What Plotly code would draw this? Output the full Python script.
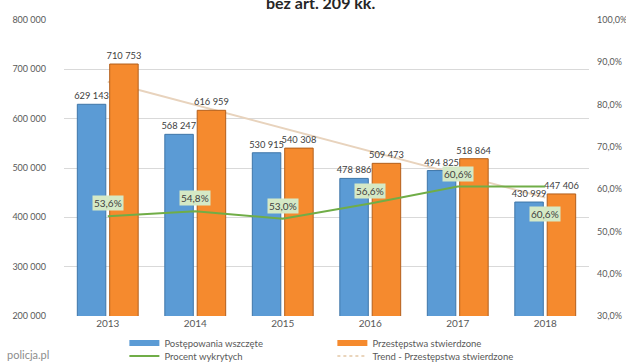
import plotly.graph_objects as go

# Roczne dane: postępowania wszczęte i przestępstwa stwierdzone (bez art. 209 kk.)
years = ["2013", "2014", "2015", "2016", "2017", "2018"]
postepowania = [629143, 568247, 530915, 478886, 494825, 430999]
stwierdzone = [710753, 616959, 540308, 509473, 518864, 447406]
procent_wykrytych = [53.6, 54.8, 53.0, 56.6, 60.6, 60.6]
# liniowy trend przestępstw stwierdzonych: wartości na początku i końcu okresu
trend_years = ["2013", "2018"]
trend_values = [675000, 440000]

left_ticks = [200000, 300000, 400000, 500000, 600000, 700000, 800000]
right_ticks = [30, 40, 50, 60, 70, 80, 90, 100]


def pct(v):
    return f"{v:.1f}".replace(".", ",") + "%"


FONT = "Lato, 'Open Sans', sans-serif"
TXT = "#595959"
BLUE = "#5B9BD5"
ORANGE = "#F58A2E"
GREEN = "#70AD47"
TREND = "#E8D3BD"

fig = go.Figure()

# trend line sits on the base axis, underneath the bars
fig.add_trace(go.Scatter(
    x=trend_years, y=trend_values, mode="lines",
    name="Trend - Przestępstwa stwierdzone",
    line=dict(color=TREND, width=2), showlegend=False,
    xaxis="x", yaxis="y", hoverinfo="skip",
))

bar_text = dict(size=9.3, color="#404040", family=FONT)
fig.add_trace(go.Bar(
    x=years, y=postepowania, name="Postępowania wszczęte",
    marker=dict(color=BLUE, line=dict(color="#3F76A8", width=1)),
    texttemplate="%{y:,.0f}", textposition="outside", constraintext="none",
    textfont=bar_text, cliponaxis=False, xaxis="x", yaxis="y2",
    showlegend=False,
))
fig.add_trace(go.Bar(
    x=years, y=stwierdzone, name="Przestępstwa stwierdzone",
    marker=dict(color=ORANGE, line=dict(color="#B35F1C", width=1)),
    texttemplate="%{y:,.0f}", textposition="outside", constraintext="none",
    textfont=bar_text, cliponaxis=False, xaxis="x", yaxis="y2",
    showlegend=False,
))

fig.add_trace(go.Scatter(
    x=years, y=procent_wykrytych, mode="lines", name="Procent wykrytych",
    line=dict(color=GREEN, width=2), xaxis="x", yaxis="y3",
    showlegend=False,
))

# legend keys: flat bar swatches and line swatches, two rows
legend_keys = [
    ("Postępowania wszczęte", BLUE, 6, "solid", "legend"),
    ("Przestępstwa stwierdzone", ORANGE, 6, "solid", "legend"),
    ("Procent wykrytych", GREEN, 2, "solid", "legend2"),
    ("Trend - Przestępstwa stwierdzone", "#E3C7A6", 1.5, "dot", "legend2"),
]
for rank, (name, color, width, dash, leg) in enumerate(legend_keys):
    fig.add_trace(go.Scatter(
        x=[None], y=[None], mode="lines", name=name,
        line=dict(color=color, width=width, dash=dash),
        legend=leg, legendrank=rank, xaxis="x", yaxis="y3",
    ))

# percentage callouts on the green line
label_side = ["top", "top", "top", "top", "top", "bottom"]
for i, (val, side) in enumerate(zip(procent_wykrytych, label_side)):
    fig.add_annotation(
        x=i, y=val, xref="x", yref="y3", text=pct(val),
        showarrow=False, bgcolor="#D5E9C6", borderpad=1,
        font=dict(size=10, color="#404040", family=FONT),
        yshift=13 if side == "top" else -27,
    )

fig.add_annotation(
    text="<b>bez art. 209 kk.</b>", xref="paper", yref="paper",
    x=0.488, y=1.0, yshift=18, yanchor="middle", showarrow=False,
    font=dict(size=16, color="#262626", family=FONT),
)
fig.add_annotation(
    text="policja.pl", xref="paper", yref="paper",
    x=-0.113, y=-0.13, xanchor="left", yanchor="middle", showarrow=False,
    font=dict(size=11, color="#8C8C8C", family=FONT),
)

H = 363
legend_style = dict(
    orientation="h", x=0.115, xanchor="left", yanchor="middle",
    yref="container", entrywidth=163, traceorder="normal", itemwidth=30,
    font=dict(size=9.5, color=TXT, family=FONT), bgcolor="rgba(0,0,0,0)",
)

yrange = [200000, 800000]
fig.update_layout(
    width=626, height=H,
    margin=dict(l=64, r=37, t=20, b=47),
    paper_bgcolor="white", plot_bgcolor="white",
    separators=", ",
    barmode="group", bargap=0.26, bargroupgap=0.12,
    font=dict(family=FONT, size=10, color=TXT),
    showlegend=True,
    legend=dict(y=(H - 343) / H, **legend_style),
    legend2=dict(y=(H - 356) / H, **legend_style),
    xaxis=dict(
        type="category", categoryorder="array", categoryarray=years,
        range=[-0.5, len(years) - 0.5], autorange=False, automargin=False,
        showgrid=False, showline=False, ticks="",
        tickfont=dict(size=10, color=TXT),
    ),
    yaxis=dict(
        range=yrange, tickvals=left_ticks, tickformat=",.0f",
        showgrid=True, gridcolor="#D9D9D9", gridwidth=1, zeroline=False,
        showline=False, ticks="", ticklabelstandoff=17, automargin=False,
        tickfont=dict(size=9, color=TXT),
    ),
    yaxis2=dict(
        range=yrange, overlaying="y", visible=False, showgrid=False,
        automargin=False,
    ),
    yaxis3=dict(
        range=[30, 100], tickvals=right_ticks,
        ticktext=[pct(v) for v in right_ticks],
        overlaying="y", side="right", showgrid=False, zeroline=False,
        showline=False, ticks="", ticklabelstandoff=7, automargin=False,
        tickfont=dict(size=9, color=TXT),
    ),
)

fig.write_html("out.html")
